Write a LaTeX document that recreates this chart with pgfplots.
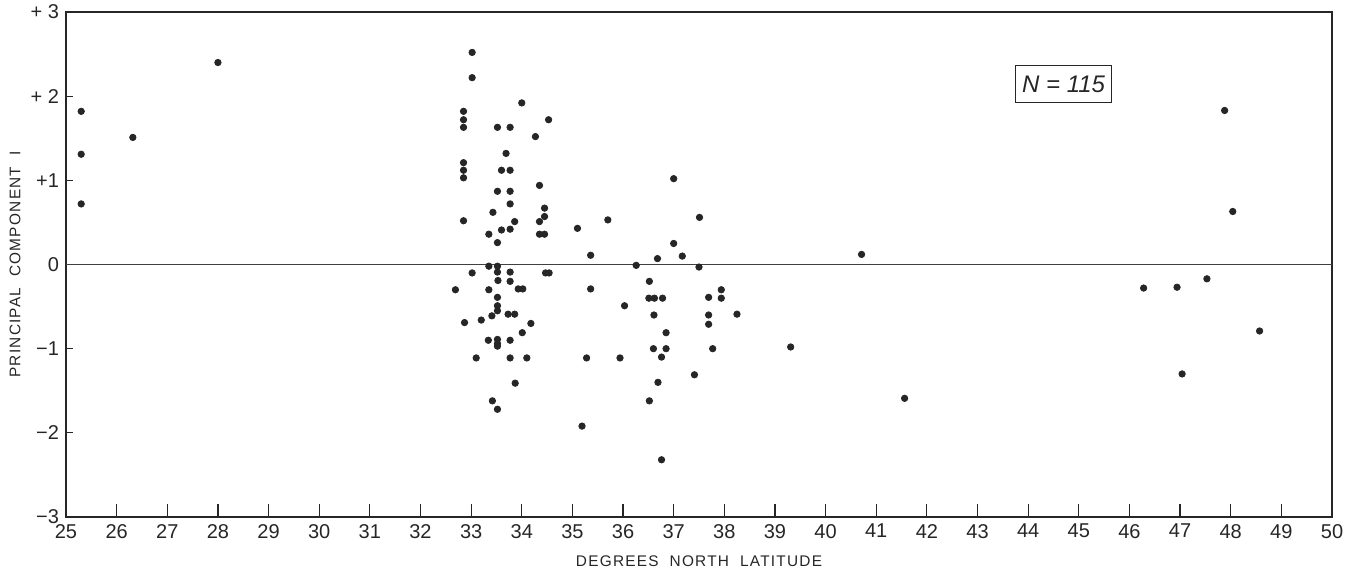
\documentclass[border=0pt]{standalone}
\usepackage{fontspec}
\setmainfont{Liberation Sans}
\newfontfamily\lblfont[LetterSpace=8]{Liberation Sans}
\usepackage{pgfplots}
\pgfplotsset{compat=1.18}

\begin{document}
\begin{tikzpicture}
\useasboundingbox (0,0) rectangle (677.5pt,287.5pt);
\begin{axis}[
  at={(33pt,29pt)},anchor=south west,
  scale only axis,width=633pt,height=252.5pt,
  xmin=25,xmax=50,ymin=-3,ymax=3,
  axis line style={line width=0.8pt,black!85},
  xtick={25,...,50},ytick={-3,...,3},
  yticklabels={−3,−2,−1,0,+1,+ 2,+ 3},
  tick align=inside,xtick pos=lower,ytick pos=left,
  major tick length=6.5pt,
  every major y tick/.append style={/pgfplots/major tick length=3.5pt},
  tick style={line width=0.6pt,black!85},
  /pgf/number format/assume math mode=true,
  tick label style={font=\fontsize{10}{12}\selectfont,text=black!85},
  xlabel={\lblfont DEGREES\ \ NORTH\ \ LATITUDE},
  ylabel={\lblfont PRINCIPAL\ \ COMPONENT\ \ I},
  label style={font=\fontsize{7.7}{9}\selectfont,text=black!85},
  xlabel style={at={(axis description cs:0.5,-0.0871)},anchor=center},
  ylabel style={at={(axis description cs:-0.0403,0.5)},anchor=center},
  clip=false,
]
\draw[line width=0.5pt,black!75] (axis cs:25,0) -- (axis cs:50,0);
\addplot[only marks,mark=*,mark size=1.6pt,black!85] coordinates {
(25.3,1.82) (25.3,1.31) (25.3,0.72) (26.32,1.51) (28.0,2.40)
(33.02,2.52) (33.02,2.22) (34.0,1.92) (32.85,1.82) (32.85,1.72) (32.85,1.63)
(33.52,1.63) (33.77,1.63) (34.53,1.72) (34.27,1.52)
(33.69,1.32) (32.85,1.21) (32.85,1.12) (32.85,1.03) (33.6,1.12) (33.77,1.12)
(34.35,0.94) (33.52,0.87) (33.77,0.87) (33.77,0.72) (33.43,0.62) (34.45,0.67)
(32.85,0.52) (33.86,0.51) (34.35,0.51) (34.45,0.57) (33.6,0.41) (33.77,0.42)
(33.35,0.36) (34.35,0.36) (34.45,0.36) (33.52,0.26) (33.35,-0.02) (33.52,-0.02)
(33.02,-0.10) (33.52,-0.09) (33.77,-0.09) (34.47,-0.10) (34.54,-0.10)
(33.53,-0.19) (33.77,-0.20) (32.69,-0.30) (33.35,-0.30) (33.93,-0.29) (34.02,-0.29)
(33.52,-0.39) (33.52,-0.49) (33.52,-0.55) (33.41,-0.61) (33.73,-0.59) (33.86,-0.59)
(32.87,-0.69) (33.2,-0.66) (34.18,-0.70) (34.01,-0.81)
(33.34,-0.90) (33.52,-0.89) (33.52,-0.94) (33.52,-0.97) (33.77,-0.90)
(33.1,-1.11) (33.77,-1.11) (34.1,-1.11) (33.87,-1.41) (33.42,-1.62) (33.52,-1.72)
(37.0,1.02) (35.7,0.53) (35.1,0.43) (37.51,0.56) (37.0,0.25) (35.36,0.11)
(36.68,0.07) (37.17,0.10) (36.26,-0.01) (37.5,-0.03)
(36.52,-0.20) (35.36,-0.29) (37.94,-0.30) (36.03,-0.49)
(36.51,-0.40) (36.62,-0.40) (36.78,-0.40) (37.69,-0.39) (37.94,-0.40)
(36.61,-0.60) (37.69,-0.60) (38.25,-0.59) (37.69,-0.71) (36.85,-0.81)
(36.6,-1.0) (36.85,-1.0) (37.77,-1.0) (35.28,-1.11) (35.94,-1.11) (36.76,-1.10)
(37.41,-1.31) (36.69,-1.40) (36.52,-1.62) (35.19,-1.92) (36.76,-2.32)
(39.31,-0.98) (40.71,0.12) (41.56,-1.59)
(47.88,1.83) (48.04,0.63) (46.28,-0.28) (46.94,-0.27) (47.53,-0.17)
(48.57,-0.79) (47.04,-1.30)
};
\node[draw,line width=0.6pt,black!85,minimum width=48pt,minimum height=18.5pt,
  font=\fontsize{12}{14}\selectfont\itshape] at (axis cs:44.7,2.14) {N = 115};
\end{axis}
\end{tikzpicture}
\end{document}
